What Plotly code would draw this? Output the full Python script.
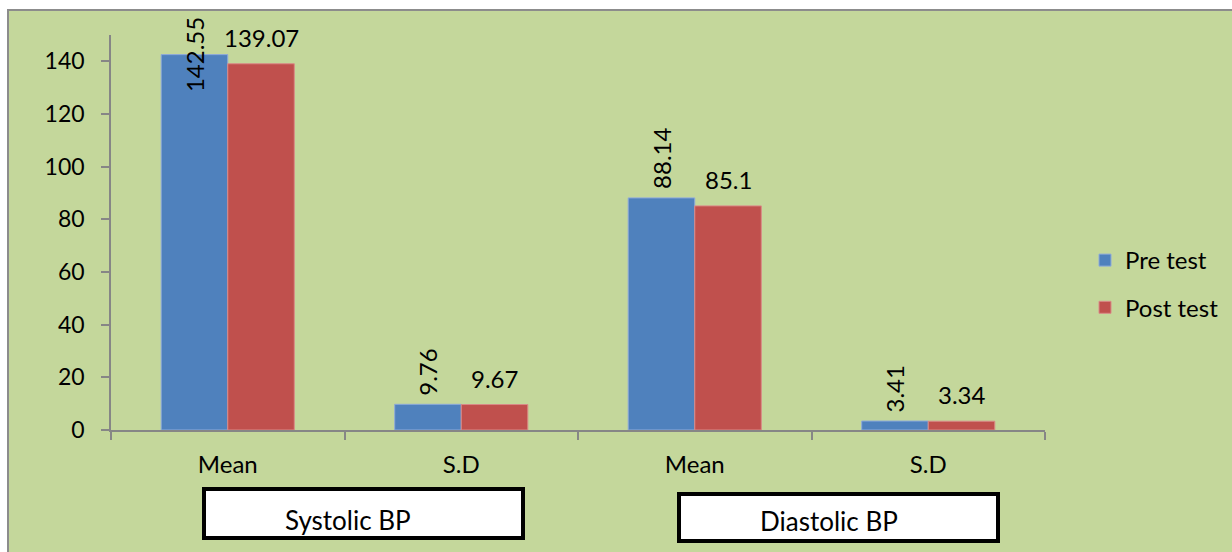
import plotly.graph_objects as go

# Blood pressure statistics, pre vs post test
stats = ["Mean", "S.D", "Mean", "S.D"]
groups = ["Systolic BP", "Diastolic BP"]
pre_test = [142.55, 9.76, 88.14, 3.41]
post_test = [139.07, 9.67, 85.1, 3.34]
y_ticks = [0, 20, 40, 60, 80, 100, 120, 140]

Y_MAX = 150
FONT = "Lato"
FS = 24
BLUE = "#4F81BD"
RED = "#C0504D"
GREEN_BG = "#C4D79B"
AXIS_GREY = "#868686"

W, H = 1232, 552
L, R, T, B = 111, 187, 35, 122
PW, PH = W - L - R, H - T - B


def px_x(px):
    return (px - L) / PW


def px_y(py):
    return (H - B - py) / PH


xs = list(range(len(stats)))
bargap = 0.43
bar_w = (1 - bargap) / 2

fig = go.Figure()
fig.add_trace(go.Bar(x=xs, y=pre_test, name="Pre test", marker=dict(color=BLUE, line=dict(color="#8EAADB", width=1)),
                     legendgroup="pre"))
fig.add_trace(go.Bar(x=xs, y=post_test, name="Post test", marker=dict(color=RED, line=dict(color="#DA8A88", width=1)),
                     legendgroup="post"))

annotations = []
# value labels: pre test rotated, post test horizontal
for x, v in zip(xs, pre_test):
    near_top = v > 0.85 * Y_MAX
    annotations.append(dict(
        x=x - bar_w / 2, y=v, xref="x", yref="y", text=f"{v:g}", showarrow=False, textangle=-90,
        yanchor="middle" if near_top else "bottom", yshift=0 if near_top else 7,
        font=dict(family=FONT, size=FS, color="black")))
for x, v in zip(xs, post_test):
    annotations.append(dict(
        x=x + bar_w / 2, y=v, xref="x", yref="y", text=f"{v:g}", showarrow=False,
        yanchor="bottom", yshift=10,
        font=dict(family=FONT, size=FS, color="black")))

# boxed group captions under the axis
boxes = [(202, 487, 525, 540), (677, 492, 1000, 543)]
caption_pos = [(348, 520), (829, 521)]
shapes = [dict(type="rect", xref="paper", yref="paper", layer="below",
               x0=px_x(8), x1=px_x(W + 20), y0=px_y(H + 20), y1=px_y(10),
               fillcolor=GREEN_BG, line=dict(color="#8C8C8C", width=2))]
for (bx0, by0, bx1, by1), label, (cx, cy) in zip(boxes, groups, caption_pos):
    shapes.append(dict(type="rect", xref="paper", yref="paper", layer="above",
                       x0=px_x(bx0 + 2), x1=px_x(bx1 - 2), y0=px_y(by1 - 2), y1=px_y(by0 + 2),
                       fillcolor="white", line=dict(color="black", width=4)))
    annotations.append(dict(
        x=px_x(cx), y=px_y(cy), xref="paper", yref="paper", text=label, showarrow=False,
        xanchor="center", yanchor="middle",
        font=dict(family=FONT, size=26, color="black")))

fig.update_layout(
    width=W, height=H, autosize=False,
    margin=dict(l=L, r=R, t=T, b=B, pad=0, autoexpand=False),
    paper_bgcolor="white", plot_bgcolor="white",
    barmode="group", bargap=bargap, bargroupgap=0,
    font=dict(family=FONT, size=FS, color="black"),
    annotations=annotations,
    shapes=shapes,
    showlegend=True,
    legend=dict(x=px_x(1085), y=px_y(238), xanchor="left", yanchor="top",
                bgcolor="rgba(0,0,0,0)", font=dict(family=FONT, size=FS, color="black"),
                tracegroupgap=13, traceorder="grouped"),
)

fig.update_xaxes(
    range=[-0.5, len(stats) - 0.5], tickvals=xs, ticktext=stats, ticks="",
    showgrid=False, zeroline=False, showline=True, linecolor=AXIS_GREY, linewidth=1.5,
    ticklabelstandoff=12,
    minor=dict(tickvals=[i - 0.5 for i in range(len(stats) + 1)], ticks="outside", ticklen=8,
               tickcolor=AXIS_GREY, tickwidth=1.5, showgrid=False),
    tickfont=dict(family=FONT, size=FS, color="black"), fixedrange=True,
)
fig.update_yaxes(
    range=[0, Y_MAX], tickvals=y_ticks, ticks="outside", ticklen=8, tickcolor=AXIS_GREY, tickwidth=1.5,
    showgrid=False, zeroline=False, showline=True, linecolor=AXIS_GREY, linewidth=1.5,
    ticklabelstandoff=12, tickfont=dict(family=FONT, size=FS - 1, color="black"), fixedrange=True,
)

fig.write_html("out.html")
